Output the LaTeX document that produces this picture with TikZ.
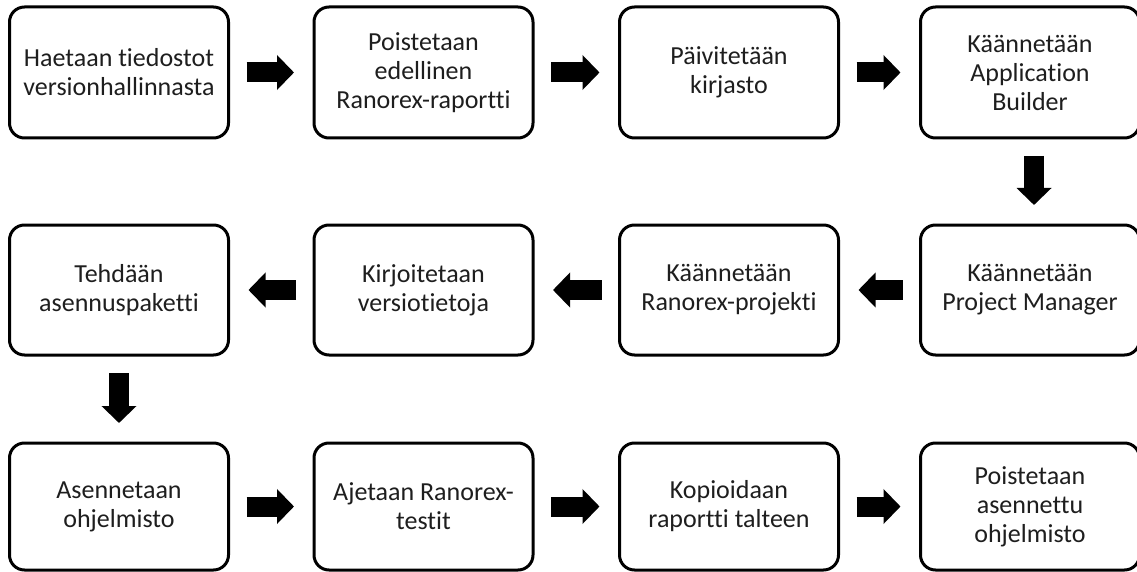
\documentclass[tikz,border=0pt]{standalone}
\usepackage{fontspec}
\setmainfont{Carlito}[RawFeature={-liga}]
\usetikzlibrary{arrows.meta}
\definecolor{txt}{HTML}{1E1E1E}
\begin{document}
\begin{tikzpicture}[x=1pt,y=-1pt,
  stepbox/.style={draw=black, line width=3pt, rounded corners=15pt, fill=white,
    minimum width=219pt, minimum height=131pt, outer sep=0pt, inner sep=2pt,
    align=center, text=txt, font=\fontsize{26}{29}\selectfont},
  flowarrow/.style={draw=black, line width=20pt, -{Triangle[length=17pt,width=34pt]},
    shorten <=18pt, shorten >=20pt}
]
\useasboundingbox (0,0) rectangle (1137,572);
% row 1
\node[stepbox] (b1) at (119,72.5) {Haetaan tiedostot\\versionhallinnasta};
\node[stepbox] (b2) at (423.5,72.5) {Poistetaan\\edellinen\\Ranorex-raportti};
\node[stepbox] (b3) at (729,72.5) {Päivitetään\\kirjasto};
\node[stepbox] (b4) at (1030,72.5) {Käännetään\\Application\\Builder};
% row 2
\node[stepbox, minimum height=130pt] (b5) at (1030,290) {Käännetään\\Project Manager};
\node[stepbox, minimum height=130pt] (b6) at (729,290) {Käännetään\\Ranorex-projekti};
\node[stepbox, minimum height=130pt] (b7) at (423.5,290) {Kirjoitetaan\\versiotietoja};
\node[stepbox, minimum height=130pt] (b8) at (119,290) {Tehdään\\asennuspaketti};
% row 3
\node[stepbox, minimum height=127pt] (b9) at (119,506.5) {Asennetaan\\ohjelmisto};
\node[stepbox, minimum height=127pt] (b10) at (423.5,506.5) {Ajetaan Ranorex-\\testit};
\node[stepbox, minimum height=127pt] (b11) at (729,506.5) {Kopioidaan\\raportti talteen};
\node[stepbox, minimum height=127pt] (b12) at (1030,506.5) {Poistetaan\\asennettu\\ohjelmisto};
% arrows
\draw[flowarrow] (b1.east) -- (b2.west);
\draw[flowarrow] (b2.east) -- (b3.west);
\draw[flowarrow] (b3.east) -- (b4.west);
\draw[flowarrow] ([xshift=4pt]b4.south) -- ([xshift=4pt]b5.north);
\draw[flowarrow] (b5.west) -- (b6.east);
\draw[flowarrow] (b6.west) -- (b7.east);
\draw[flowarrow] (b7.west) -- (b8.east);
\draw[flowarrow] (b8.south) -- (b9.north);
\draw[flowarrow] (b9.east) -- (b10.west);
\draw[flowarrow] (b10.east) -- (b11.west);
\draw[flowarrow] (b11.east) -- (b12.west);
\end{tikzpicture}
\end{document}
